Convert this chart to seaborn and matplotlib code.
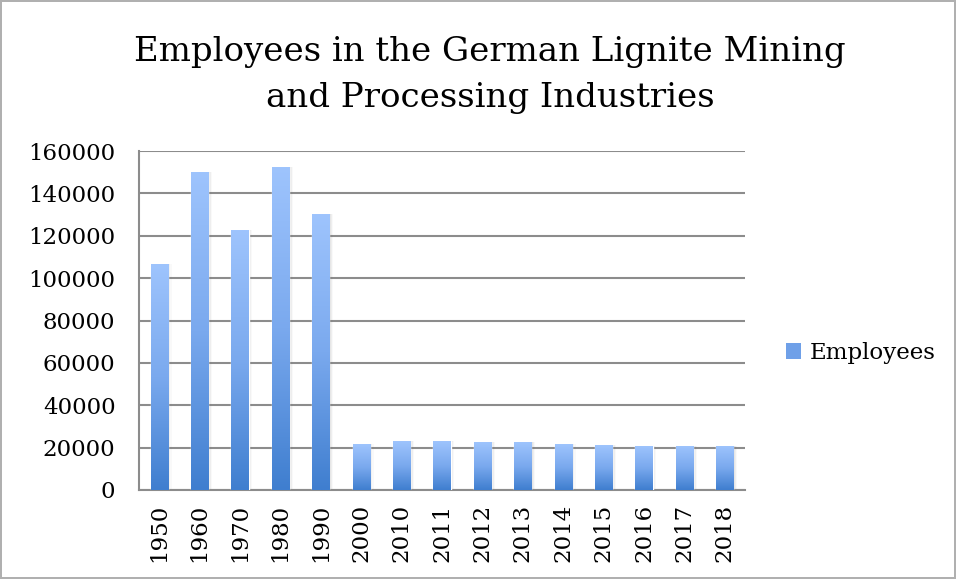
import numpy as np
import pandas as pd
import matplotlib
matplotlib.use("Agg")
import matplotlib.pyplot as plt
import seaborn as sns
from matplotlib.patches import Patch, Rectangle
from matplotlib.colors import LinearSegmentedColormap
from matplotlib.ticker import FixedLocator

years = ["1950", "1960", "1970", "1980", "1990", "2000", "2010", "2011",
         "2012", "2013", "2014", "2015", "2016", "2017", "2018"]
employees = [106500, 150000, 122700, 152400, 130200, 21700, 23000, 22900,
             22600, 22500, 21600, 21100, 21000, 21000, 21000]
yticks = [0, 20000, 40000, 60000, 80000, 100000, 120000, 140000, 160000]
title = "Employees in the German Lignite Mining\nand Processing Industries"
series_name = "Employees"

sns.set_theme(style="white")
plt.rcParams['font.family'] = ['DejaVu Serif']
plt.rcParams['text.color'] = 'black'
plt.rcParams['xtick.labelcolor'] = 'black'
plt.rcParams['ytick.labelcolor'] = 'black'

df = pd.DataFrame({"year": years, "value": employees})

fig = plt.figure(figsize=(9.56, 5.79), dpi=100)
fig.patch.set_edgecolor("#b0b0b0")
fig.patch.set_linewidth(1.5)
ax = fig.add_axes([139/956, 1-490/579, (745-139)/956, (490-151)/579])

sns.barplot(data=df, x="year", y="value", color="#6FA0E8", width=0.43,
            ax=ax, zorder=3, saturation=1)

cmap = LinearSegmentedColormap.from_list("g", ["#3F7ECF", "#7AA9EE", "#9EC4FD"])
grad = np.linspace(0, 1, 256).reshape(-1, 1)
for p in list(ax.patches):
    x0, y0 = p.get_x(), p.get_y()
    w, h = p.get_width(), p.get_height()
    for i, a in enumerate([0.10, 0.07, 0.04]):
        sh = Rectangle((x0 + w, y0), 0.03 * (i + 1), h, facecolor="#707070",
                       alpha=a, edgecolor="none", zorder=2)
        ax.add_patch(sh)
    im = ax.imshow(grad, extent=[x0, x0 + w, y0, y0 + h], origin="lower",
                   cmap=cmap, aspect="auto", zorder=4)
    im.set_clip_path(p)

ax.set_xlim(-0.5, len(years) - 0.5)
ax.set_ylim(0, 160000)
ax.set_yticks(yticks)
ax.set_yticklabels([str(v) for v in yticks])
ax.yaxis.grid(True, color="#8c8c8c", linewidth=1.5, zorder=0)
ax.set_axisbelow(True)
ax.set_xlabel("")
ax.set_ylabel("")

for s in ["top", "right"]:
    ax.spines[s].set_visible(False)
for s in ["left", "bottom"]:
    ax.spines[s].set_color("#8c8c8c")
    ax.spines[s].set_linewidth(1.5)

ax.tick_params(axis="x", which="major", length=0, labelsize=16.5, rotation=90,
               pad=10, labelcolor="black")
ax.xaxis.set_minor_locator(FixedLocator(np.arange(-0.5, len(years), 1.0)))
ax.tick_params(axis="x", which="minor", length=6.5, width=1.5, color="#8c8c8c")
ax.tick_params(axis="y", which="major", length=7, width=1.5, color="#8c8c8c",
               labelsize=16.5, pad=10, labelcolor="black")

fig.text(490/956, 1-75/579, title, ha="center", va="center", fontsize=24.5,
         linespacing=1.55, color="black")

leg = fig.legend(handles=[Patch(facecolor="#6FA0E8", edgecolor="none",
                                label=series_name)],
                 loc="center left", bbox_to_anchor=(765/956, 1-353/579),
                 frameon=False, fontsize=16.5, handlelength=0.65, handleheight=0.65,
                 handletextpad=0.4)
for t in leg.get_texts():
    t.set_color("black")

fig.savefig("out.png", dpi=100)
